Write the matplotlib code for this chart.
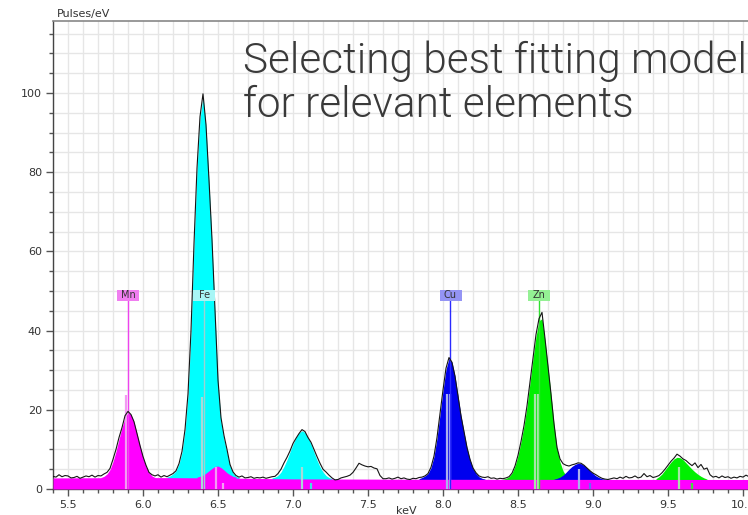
import numpy as np
import matplotlib
matplotlib.use('Agg')
import matplotlib.pyplot as plt
from matplotlib.ticker import MultipleLocator, FormatStrFormatter
from matplotlib.patches import Rectangle
from matplotlib import font_manager

# ---------------- data ----------------
spec_start = 5.40
spec_step = 0.02
spec_counts = [
    3.2, 3.0, 3.6, 3.1, 3.4, 3.3, 2.8, 2.9, 3.2, 2.7, 3.0, 3.3, 3.1, 3.5, 3.0, 3.4, 3.3,
    3.8, 4.2, 5.2, 7.5, 10.0, 13.0, 15.5, 18.5, 19.6, 18.8, 17.0, 14.0, 11.0, 8.2, 6.0, 4.2,
    3.6, 3.3, 3.6, 3.0, 3.4, 3.1, 3.5, 3.9,
    4.6, 6.4, 9.5, 15.0, 24.0, 40.0, 62.0, 81.0, 94.0, 99.8, 92.0, 78.0, 63.0, 45.0, 27.5,
    18.0, 13.5, 10.0, 6.2, 4.3, 3.4,
    3.0, 3.3, 2.8, 2.9, 3.1, 2.7, 2.9, 2.8, 3.0, 2.7, 2.9, 3.1,
    3.2, 3.9, 5.0, 6.6, 8.0, 9.6, 11.5, 12.8, 14.0, 15.0, 14.5, 13.0, 11.8, 10.0, 8.2, 6.5,
    5.0, 4.3, 3.5, 2.8, 2.3, 2.4,
    2.8, 3.0, 3.2, 3.5, 4.2, 5.3, 6.5, 6.1, 5.8, 5.6, 5.7, 5.3, 5.1, 3.4, 2.6,
    2.6, 2.8, 2.5, 2.7, 3.0, 2.6, 2.8, 2.5, 2.4, 2.7, 2.6, 2.9,
    3.0, 3.3, 3.9, 5.5, 8.3, 13.0, 19.0, 25.0, 30.5, 33.2, 32.0, 28.5, 23.5, 18.5, 14.5,
    10.5, 7.5, 5.3, 4.1, 3.3, 3.0,
    2.9, 3.1, 2.7, 2.8, 2.5, 2.7, 2.6,
    2.8, 3.1, 4.0, 5.8, 8.5, 12.0, 16.0, 21.0, 27.0, 33.0, 39.0, 43.0, 44.6, 38.0, 31.0,
    24.0, 16.5, 10.5, 7.6, 6.4, 6.0, 5.8, 6.1, 6.3, 6.6, 6.5, 6.0, 5.3, 4.6, 4.0, 3.6,
    3.1, 2.7, 2.5,
    2.4, 2.6, 2.8, 2.6, 3.0, 2.7, 3.2, 2.8, 2.9, 3.3, 2.8, 3.0, 3.9, 3.1, 3.4, 2.9, 3.1,
    3.4, 4.1, 5.0, 6.0, 7.0, 7.8, 8.8, 8.3, 7.6, 7.2, 6.5, 5.9, 6.6, 5.4, 6.2, 5.0, 5.3,
    3.6, 3.0,
    3.2, 2.8, 3.3, 2.9, 3.1, 2.7, 3.0, 2.8, 3.2, 3.0, 3.5, 3.1, 3.3, 3.0,
]

bg_energy = [5.40, 6.00, 6.50, 7.00, 8.00, 10.08]
bg_level = [2.8, 2.9, 2.8, 2.55, 2.45, 2.4]

model_step = 0.02
fe_ka_start = 6.16
fe_ka_vals = [3.0, 3.3, 3.8, 4.6, 6.3, 9.3, 14.8, 23.5, 39.5, 61.5, 80.5, 93.5, 99.0,
              91.5, 77.5, 62.0, 44.0, 27.0, 17.0, 12.5, 9.2, 5.8, 4.0, 3.2, 2.9]
fe_kb_start = 6.86
fe_kb_vals = [2.8, 3.0, 3.4, 4.3, 5.7, 7.4, 9.4, 11.3, 13.0, 14.2, 14.7, 14.3, 13.1,
              11.3, 9.3, 7.3, 5.6, 4.3, 3.4, 2.9, 2.6]
mn_ka_start = 5.72
mn_ka_vals = [2.9, 3.2, 3.8, 4.9, 6.9, 9.5, 12.6, 15.5, 18.0, 19.3, 18.8, 16.9, 14.0,
              10.9, 8.0, 5.7, 4.2, 3.3, 2.9]
mn_kb_start = 6.36
mn_kb_vals = [3.0, 3.2, 3.5, 4.0, 4.6, 5.2, 5.7, 5.8, 5.4, 4.8, 4.1, 3.6, 3.2, 3.0]
cu_ka_start = 7.84
cu_ka_vals = [2.6, 2.9, 3.3, 3.9, 5.4, 8.2, 12.8, 18.8, 24.8, 30.2, 33.0, 32.0, 28.5,
              23.5, 18.5, 14.3, 10.4, 7.4, 5.2, 3.9, 3.1, 2.7, 2.5]
cu_kb_start = 8.74
cu_kb_vals = [2.5, 2.7, 3.0, 3.5, 4.2, 5.0, 5.7, 6.2, 6.5, 6.4, 6.0, 5.3, 4.6, 3.9,
              3.3, 2.9, 2.6, 2.5]
zn_ka_start = 8.40
zn_ka_vals = [2.5, 2.7, 3.1, 4.0, 5.8, 8.4, 11.9, 15.9, 20.8, 26.8, 32.8, 38.5, 42.5,
              43.0, 37.5, 30.8, 23.8, 16.3, 10.3, 6.8, 4.6, 3.3, 2.7, 2.5]
zn_kb_start = 9.42
zn_kb_vals = [2.6, 3.1, 3.8, 4.8, 5.8, 6.8, 7.6, 8.0, 7.9, 7.4, 6.6, 5.8, 5.0, 4.3,
              3.7, 3.2, 2.8, 2.5]

# characteristic line markers
marker_elem = ['Mn', 'Fe', 'Mn', 'Fe', 'Cu', 'Cu', 'Zn', 'Zn', 'Cu', 'Zn']
marker_energy = [5.888, 6.391, 6.490, 7.060, 8.026, 8.047, 8.614, 8.636, 8.906, 9.574]
marker_height = [23.7, 23.3, 5.6, 5.6, 24.0, 24.0, 24.0, 24.0, 5.0, 5.5]
stub_elem = ['Mn', 'Fe', 'Cu', 'Zn']
stub_energy = [6.533, 7.118, 8.980, 9.658]
stub_height = [1.6, 1.6, 1.6, 1.6]

label_elem = ['Mn', 'Fe', 'Cu', 'Zn']
label_energy = [5.903, 6.408, 8.050, 8.642]
label_level = 47.6

title_lines = ['Selecting best fitting model', 'for relevant elements']

# ---------------- style ----------------
fill_col = {'Mn': '#ff00ff', 'Fe': '#00ffff', 'Cu': '#0000ee', 'Zn': '#00f000'}
pale_col = {'Mn': '#f29af2', 'Fe': '#a9d8d8', 'Cu': '#aab0ee', 'Zn': '#a8e4a8'}
stub_col = {'Mn': '#f2a0f2', 'Fe': '#40e0e0', 'Cu': '#6a6af0', 'Zn': '#40e040'}
line_col = {'Mn': '#ee44ee', 'Fe': '#9cd2d2', 'Cu': '#2a2aff', 'Zn': '#30e030'}
box_col = {'Mn': '#f07ef0', 'Fe': '#a8f6f6', 'Cu': '#9494f4', 'Zn': '#94f094'}

# pick a Roboto Light face if one is installed
title_font = None
for f in font_manager.fontManager.ttflist:
    if f.name.startswith('Roboto') and ('Light' in f.fname or f.weight == 300) \
            and 'Italic' not in f.fname and 'Condensed' not in f.fname:
        title_font = font_manager.FontProperties(fname=f.fname)
        break
if title_font is None:
    title_font = font_manager.FontProperties(family='Roboto', weight='normal')

W, H = 748, 515
fig = plt.figure(figsize=(W / 100, H / 100), dpi=100)
px_per_kev = 150.0
px_per_unit = 3.96
ax_left, ax_top, ax_bottom = 53, 20.5, 489
ax_w = 702
ax = fig.add_axes([ax_left / W, (H - ax_bottom) / H, ax_w / W, (ax_bottom - ax_top) / H])
ax.set_xlim(spec_start, spec_start + ax_w / px_per_kev)
ax.set_ylim(0, (ax_bottom - ax_top) / px_per_unit)

energy = spec_start + spec_step * np.arange(len(spec_counts))


def seg(start, vals):
    e = start + model_step * np.arange(len(vals))
    return e, np.asarray(vals)


# fills
for start, vals, el in [(fe_ka_start, fe_ka_vals, 'Fe'), (fe_kb_start, fe_kb_vals, 'Fe'),
                        (mn_ka_start, mn_ka_vals, 'Mn'), (cu_ka_start, cu_ka_vals, 'Cu'),
                        (zn_ka_start, zn_ka_vals, 'Zn'), (zn_kb_start, zn_kb_vals, 'Zn'),
                        (cu_kb_start, cu_kb_vals, 'Cu'), (mn_kb_start, mn_kb_vals, 'Mn')]:
    e, v = seg(start, vals)
    ax.fill_between(e, 0, v, color=fill_col[el], lw=0, zorder=2)

# background band
ax.fill_between(bg_energy, 0, bg_level, color='#ff00ff', lw=0, zorder=3)

# marker lines
for el, e, h in zip(marker_elem, marker_energy, marker_height):
    ax.plot([e, e], [0, h], color=pale_col[el], lw=1.6, zorder=4, solid_capstyle='butt')
for el, e, h in zip(stub_elem, stub_energy, stub_height):
    ax.plot([e, e], [0, h], color=stub_col[el], lw=1.6, zorder=4, solid_capstyle='butt')

# label lines
for el, e in zip(label_elem, label_energy):
    ax.plot([e, e], [0, label_level], color=line_col[el], lw=1.0, zorder=4)

# spectrum
ax.plot(energy, spec_counts, color='#151515', lw=0.8, zorder=5)

# label boxes
bw = 22 / px_per_kev
bh = 11 / px_per_unit
for el, e in zip(label_elem, label_energy):
    ax.add_patch(Rectangle((e - bw / 2, label_level), bw, bh, facecolor=box_col[el],
                           edgecolor='none', zorder=6))
    ax.text(e, label_level + bh / 2, el, ha='center', va='center', fontsize=7,
            color='#333333', zorder=7)

# axes styling
ax.xaxis.set_major_locator(MultipleLocator(0.5))
ax.xaxis.set_minor_locator(MultipleLocator(0.1))
ax.xaxis.set_major_formatter(FormatStrFormatter('%.1f'))
ax.yaxis.set_major_locator(MultipleLocator(20))
ax.yaxis.set_minor_locator(MultipleLocator(5))
ax.grid(which='both', color='#e6e6e6', lw=1.0)
ax.set_axisbelow(True)
ax.tick_params(which='major', direction='out', length=5, width=1, color='#555555',
               labelsize=8, labelcolor='#333333', pad=3)
ax.tick_params(which='minor', direction='out', length=3, width=1, color='#555555')
for s in ['left', 'bottom']:
    ax.spines[s].set_color('#444444')
    ax.spines[s].set_linewidth(1.0)
ax.spines['top'].set_color('#888888')
ax.spines['top'].set_linewidth(1.2)
ax.spines['right'].set_visible(False)

fig.text(57 / W, 1 - 17 / H, 'Pulses/eV', fontsize=8, color='#333333', va='baseline')
fig.text(406 / W, 1 - 506 / H, 'keV', fontsize=8, color='#333333', va='top', ha='center')

title_font.set_size(30.4)
for i, t in enumerate(title_lines):
    fig.text(243 / W, 1 - (72.7 + 44 * i) / H, t, fontproperties=title_font,
             color='#3a3a3a', va='baseline', ha='left')

fig.savefig('out.png', dpi=100)
